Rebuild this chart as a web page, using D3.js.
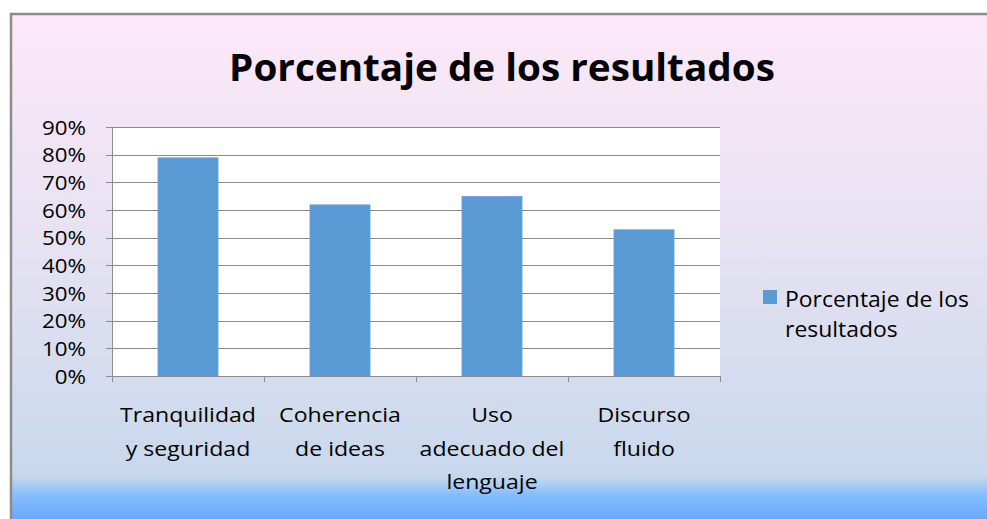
<!DOCTYPE html>
<html><head><meta charset="utf-8">
<script src="https://cdn.jsdelivr.net/npm/d3@7"></script>
<style>body{margin:0;background:#fff;}svg{display:block;}text{font-family:"Open Sans",sans-serif;}</style>
</head><body>
<svg id="c" width="987" height="519"></svg>
<script>
const title = "Porcentaje de los resultados";
const categories = [["Tranquilidad","y seguridad"],["Coherencia","de ideas"],["Uso","adecuado del","lenguaje"],["Discurso","fluido"]];
const values = [0.79, 0.62, 0.65, 0.53];
const yTicks = [0,0.1,0.2,0.3,0.4,0.5,0.6,0.7,0.8,0.9];
const seriesName = ["Porcentaje de los","resultados"];

const svg = d3.select("#c");
const defs = svg.append("defs");
const g1 = defs.append("linearGradient").attr("id","bg").attr("x1",0).attr("y1",0).attr("x2",0).attr("y2",1);
[[0,"#fde8f8"],[0.45,"#e6e2f2"],[0.905,"#c8d8ec"],[0.925,"#a8ccf4"],[0.94,"#88bffd"],[0.99,"#69a9fb"]].forEach(s=>g1.append("stop").attr("offset",s[0]).attr("stop-color",s[1]));

svg.append("rect").attr("x",11).attr("y",14).attr("width",990).attr("height",510).attr("fill","url(#bg)").attr("stroke","#8c8c8c").attr("stroke-width",2.5);

const x0=112,x1=720,yTop=127,yBot=376;
const x = d3.scaleBand().domain(d3.range(categories.length)).range([x0,x1]).paddingInner(0.6).paddingOuter(0.3);
const y = d3.scaleLinear().domain([0,0.9]).range([yBot,yTop]);

function stretch(sample, size, weight, target){
  const t = svg.append("text").attr("font-size",size).attr("font-weight",weight).text(sample);
  const w = t.node().getComputedTextLength(); t.remove();
  return target / w;
}
function label(px, py, str, size, weight, anchor, sx){
  svg.append("text").attr("transform",`translate(${px},${py}) scale(${sx},1)`)
    .attr("font-size",size).attr("font-weight",weight).attr("text-anchor",anchor).attr("fill","#000").text(str);
}

svg.append("rect").attr("x",x0).attr("y",yTop).attr("width",x1-x0).attr("height",yBot-yTop).attr("fill","#fff");

svg.append("g").selectAll("line").data(yTicks).join("line")
  .attr("x1",x0-6).attr("x2",x1).attr("y1",d=>Math.round(y(d))+0.5).attr("y2",d=>Math.round(y(d))+0.5)
  .attr("stroke","#8c8c8c").attr("stroke-width",1);

svg.append("g").selectAll("rect").data(values).join("rect")
  .attr("x",(d,i)=>x(i)).attr("width",x.bandwidth())
  .attr("y",d=>y(d)).attr("height",d=>yBot-y(d)).attr("fill","#5b9bd5");

svg.append("line").attr("x1",x0+0.5).attr("x2",x0+0.5).attr("y1",yTop).attr("y2",yBot).attr("stroke","#8c8c8c");
svg.append("line").attr("x1",x0).attr("x2",x1).attr("y1",yBot+0.5).attr("y2",yBot+0.5).attr("stroke","#8c8c8c");
const step=(x1-x0)/categories.length;
svg.append("g").selectAll("line").data(d3.range(categories.length+1)).join("line")
  .attr("x1",i=>Math.round(x0+i*step)+0.5).attr("x2",i=>Math.round(x0+i*step)+0.5)
  .attr("y1",yBot).attr("y2",yBot+6).attr("stroke","#8c8c8c");

const tickSize=20, tickSx = stretch("90%", tickSize, "normal", 44);
yTicks.forEach(d=>label(86, y(d)+7.5, Math.round(d*100)+"%", tickSize, "normal", "end", tickSx));

const catSize=19.5, catSx = stretch("Tranquilidad", catSize, "normal", 136);
categories.forEach((lines,i)=>{
  const cx = x(i)+x.bandwidth()/2;
  lines.forEach((t,j)=>label(cx, 422+j*33.5, t, catSize, "normal", "middle", catSx));
});

const titleSize=38, titleSx = stretch(title, titleSize, "bold", 546);
label(502, 81, title, titleSize, "bold", "middle", titleSx);

svg.append("rect").attr("x",763).attr("y",290).attr("width",14).attr("height",14).attr("fill","#5b9bd5");
const legSize=21, legSx = stretch(seriesName[0], legSize, "normal", 184);
seriesName.forEach((t,j)=>label(785, 307+j*29.5, t, legSize, "normal", "start", legSx));
</script>
</body></html>
